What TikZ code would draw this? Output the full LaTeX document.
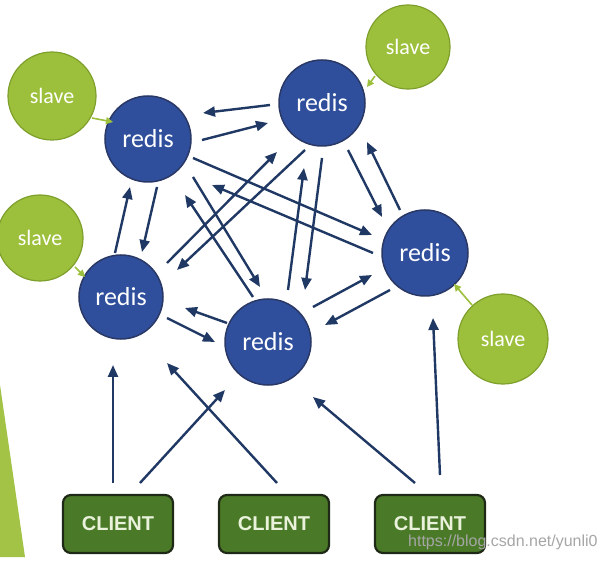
\documentclass[tikz,border=0pt]{standalone}
\usepackage{fontspec}
\setmainfont{Carlito}
\newfontfamily\clientfont{Liberation Sans}
\usetikzlibrary{calc,arrows.meta}
\definecolor{redisblue}{HTML}{2F4F9C}
\definecolor{redisedge}{HTML}{2A3865}
\definecolor{slavegreen}{HTML}{9DC03C}
\definecolor{slaveedge}{HTML}{7E9F2C}
\definecolor{clientgreen}{HTML}{4A7A28}
\definecolor{clientedge}{HTML}{1F2A16}
\definecolor{arrownavy}{HTML}{1F3864}
\definecolor{clienttext}{HTML}{EAF2DC}
\tikzset{
  redisnode/.style={circle, fill=redisblue, draw=redisedge, line width=1.5pt, minimum size=86pt, inner sep=0pt, text=white, font=\fontsize{26}{30}\selectfont},
  slavenode/.style={circle, fill=slavegreen, draw=slaveedge, line width=1.2pt, minimum size=86pt, inner sep=0pt, text=white, font=\fontsize{22}{26}\selectfont},
  clientnode/.style={rectangle, rounded corners=8pt, fill=clientgreen, draw=clientedge, line width=2.2pt, minimum width=110pt, minimum height=58pt, inner sep=0pt, text=clienttext, font=\clientfont\bfseries\fontsize{20}{24}\selectfont},
  arr/.style={draw=arrownavy, line width=2.4pt, -{Triangle[length=12pt,width=10pt]}},
  sarr/.style={draw=slavegreen, line width=1.6pt, -{Triangle[length=7pt,width=7pt]}},
}
\begin{document}
\begin{tikzpicture}[x=1pt,y=-1pt]
\useasboundingbox (0,0) rectangle (606,564);
\fill[white] (0,0) rectangle (606,564);
% left green sliver
\fill[slavegreen!95!white] (0,385) -- (25,557) -- (0,557) -- cycle;

% redis nodes
\node[redisnode] (r1) at (148,139) {redis};
\node[redisnode] (r2) at (322,103) {redis};
\node[redisnode] (r3) at (425,253) {redis};
\node[redisnode, minimum size=84pt] (r4) at (121,297) {redis};
\node[redisnode] (r5) at (268,342) {redis};

% slave nodes
\node[slavenode, minimum size=88pt] (s1) at (52,96) {slave};
\node[slavenode, minimum size=84pt] (s2) at (408,47) {slave};
\node[slavenode, minimum size=86pt] (s3) at (40,238) {slave};
\node[slavenode, minimum size=90pt] (s4) at (503,339) {slave};

% clients
\node[clientnode] (c1) at (118,524) {CLIENT};
\node[clientnode] (c2) at (274,524) {CLIENT};
\node[clientnode] (c3) at (430,524) {CLIENT};

% redis <-> redis
\draw[arr] ($(r2)+(-52,2)$) -- ($(r1)+(55,-26)$);
\draw[arr] ($(r1)+(54,1)$) -- ($(r2)+(-54,20)$);
\draw[arr] ($(r2)+(-17,47)$) -- ($(r4)+(56,-27)$);
\draw[arr] ($(r4)+(46,-34)$) -- ($(r2)+(-45,49)$);
\draw[arr] ($(r2)+(0,55)$) -- ($(r5)+(37,-52)$);
\draw[arr] ($(r5)+(20,-52)$) -- ($(r2)+(-18,65)$);
\draw[arr] ($(r2)+(26,47)$) -- ($(r3)+(-43,-36)$);
\draw[arr] ($(r3)+(-25,-43)$) -- ($(r2)+(45,39)$);
\draw[arr] ($(r1)+(45,19)$) -- ($(r3)+(-53,-18)$);
\draw[arr] ($(r3)+(-52,0)$) -- ($(r1)+(64,46)$);
\draw[arr] ($(r1)+(45,38)$) -- ($(r5)+(-8,-55)$);
\draw[arr] ($(r5)+(-15,-45)$) -- ($(r1)+(37,56)$);
\draw[arr] ($(r1)+(9,48)$) -- ($(r4)+(21,-45)$);
\draw[arr] ($(r4)+(-6,-44)$) -- ($(r1)+(-18,48)$);
\draw[arr] ($(r5)+(-41,-19)$) -- ($(r4)+(64,11)$);
\draw[arr] ($(r4)+(46,21)$) -- ($(r5)+(-53,0)$);
\draw[arr] ($(r5)+(45,-35)$) -- ($(r3)+(-53,22)$);
\draw[arr] ($(r3)+(-35,37)$) -- ($(r5)+(57,-17)$);

% clients -> redis
\draw[arr] ($(c1)+(-5,-41)$) -- ($(r4)+(-8,68)$);
\draw[arr] ($(c1)+(22,-41)$) -- ($(r5)+(-43,48)$);
\draw[arr] ($(c2)+(3,-41)$) -- ($(r4)+(46,66)$);
\draw[arr] ($(c3)+(-15,-41)$) -- ($(r5)+(45,55)$);
\draw[arr] ($(c3)+(10,-49)$) -- ($(r3)+(8,65)$);

% slaves -> redis
\draw[sarr] ($(s1)+(40,22)$) -- ($(r1)+(-35,-17)$);
\draw[sarr] ($(s2)+(-33,29)$) -- ($(r2)+(45,-16)$);
\draw[sarr] ($(s3)+(35,29)$) -- ($(r4)+(-36,-20)$);
\draw[sarr] ($(s4)+(-31,-34)$) -- ($(r3)+(29,31)$);

% watermark
\node[anchor=base west, inner sep=0pt, text=black!35, font=\clientfont\fontsize{16}{18}\selectfont] (wm) at (408,546) {https://blog.csdn.net/yunli0};
\end{tikzpicture}
\end{document}
